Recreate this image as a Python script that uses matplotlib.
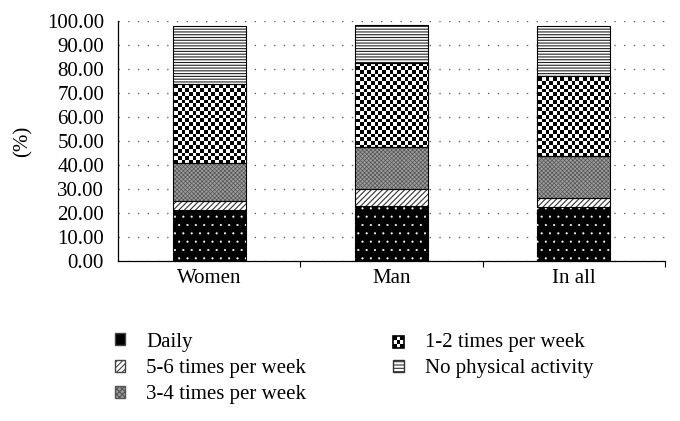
import numpy as np
import matplotlib
matplotlib.use('Agg')
import matplotlib.pyplot as plt
from matplotlib.patches import Patch, Rectangle

plt.rcParams['font.family'] = ['Liberation Serif', 'DejaVu Serif']
plt.rcParams['hatch.linewidth'] = 0.8

# data (% of respondents)
groups = ['Women', 'Man', 'In all']
activity = ['Daily', '5-6 times per week', '3-4 times per week',
            '1-2 times per week', 'No physical activity']
daily = [21.2, 23.0, 22.4]
five_six = [3.8, 7.0, 4.0]
three_four = [16.0, 17.6, 17.5]
one_two = [32.6, 35.0, 33.2]
none_pa = [24.4, 15.6, 21.0]
yticks = np.arange(0, 101, 10)

FS = 15

fig = plt.figure(figsize=(6.8, 4.21), dpi=100)
ax = fig.add_axes([0.1735, 0.380, 0.8045, 0.570])

x = np.arange(len(groups))
w = 0.4
bottom = np.zeros(len(groups))

# Daily: black with small white dots
ax.bar(x, daily, w, bottom=bottom, color='black', edgecolor='black', lw=0.8, zorder=3)
with plt.rc_context({'hatch.linewidth': 0.3}):
    ax.bar(x, daily, w, bottom=bottom, facecolor='none', edgecolor='white', hatch='..', lw=0, zorder=4)
bottom += daily

# 5-6: diagonal lines
ax.bar(x, five_six, w, bottom=bottom, facecolor='white', edgecolor='#333333', hatch='//////', lw=0, zorder=3)
ax.bar(x, five_six, w, bottom=bottom, facecolor='none', edgecolor='black', lw=0.8, zorder=5)
bottom += five_six

# 3-4: fine gray stipple
with plt.rc_context({'hatch.linewidth': 0.5}):
    ax.bar(x, three_four, w, bottom=bottom, facecolor='#9c9c9c', edgecolor='#555555', hatch='xxxxxxxx', lw=0, zorder=3)
ax.bar(x, three_four, w, bottom=bottom, facecolor='none', edgecolor='black', lw=0.8, zorder=5)
bottom += three_four

# 1-2: checkerboard, image clipped to each bar
cell = 3.7
ax_w, ax_h = 0.8045 * 680, 0.570 * 421
nx, ny = int(ax_w / cell), int(ax_h / cell)
checker = (np.add.outer(np.arange(ny), np.arange(nx)) % 2).astype(float)
b_12 = ax.bar(x, one_two, w, bottom=bottom, facecolor='white', edgecolor='black', lw=0.8, zorder=3)
for bar in b_12:
    im = ax.imshow(checker, cmap='gray', extent=[0, 1, 0, 1], transform=ax.transAxes,
                   interpolation='nearest', aspect='auto', zorder=4)
    im.set_clip_path(bar)
ax.bar(x, one_two, w, bottom=bottom, facecolor='none', edgecolor='black', lw=0.8, zorder=5)
bottom += one_two

# No physical activity: horizontal lines
ax.bar(x, none_pa, w, bottom=bottom, facecolor='white', edgecolor='#222222', hatch='------', lw=0, zorder=3)
ax.bar(x, none_pa, w, bottom=bottom, facecolor='none', edgecolor='black', lw=0.8, zorder=5)

ax.set_xlim(-0.5, 2.5)
ax.set_ylim(0, 100)
ax.set_yticks(yticks)
ax.set_yticklabels(['%.2f' % v for v in yticks], fontsize=FS)
ax.set_xticks(x)
ax.set_xticklabels(groups, fontsize=FS)
ax.set_xticks([0.5, 1.5, 2.5], minor=True)
ax.tick_params(axis='x', which='major', length=0, pad=6)
ax.tick_params(axis='x', which='minor', length=4, direction='out', width=0.8)
ax.tick_params(axis='y', length=0, pad=10)
ax.set_ylabel('(%)', fontsize=FS, labelpad=10)

ax.yaxis.grid(True, linestyle=(0, (1, 6)), color='#666666', lw=1)
ax.set_axisbelow(True)
for s in ['top', 'right']:
    ax.spines[s].set_visible(False)
ax.spines['left'].set_linewidth(0.9)
ax.spines['bottom'].set_linewidth(0.9)


class CheckerHandler:
    # little checkerboard square for the legend
    def legend_artist(self, legend, orig_handle, fontsize, handlebox):
        x0, y0 = handlebox.xdescent, handlebox.ydescent
        wd, ht = handlebox.width, handlebox.height
        n = 3
        for i in range(n):
            for j in range(n):
                c = 'black' if (i + j) % 2 == 0 else 'white'
                handlebox.add_artist(Rectangle((x0 + i * wd / n, y0 + j * ht / n), wd / n, ht / n,
                                               facecolor=c, edgecolor='none',
                                               transform=handlebox.get_transform()))
        frame = Rectangle((x0, y0), wd, ht, facecolor='none', edgecolor='black', lw=1.2,
                          transform=handlebox.get_transform())
        handlebox.add_artist(frame)
        return frame


checker_proxy = Patch(facecolor='white', edgecolor='black', label=activity[3])
handles = [
    Patch(facecolor='black', edgecolor='#444444', label=activity[0]),
    Patch(facecolor='white', edgecolor='#444444', hatch='//////', label=activity[1]),
    Patch(facecolor='#9c9c9c', edgecolor='#555555', hatch='xxxxxx', label=activity[2]),
    checker_proxy,
    Patch(facecolor='white', edgecolor='#333333', hatch='-----', label=activity[4]),
]
fig.legend(handles=handles, loc='upper left', bbox_to_anchor=(0.141, 0.254), ncol=2,
           frameon=False, fontsize=FS, handlelength=0.5, handleheight=0.5,
           handletextpad=1.0, columnspacing=4.2, labelspacing=0.35,
           handler_map={checker_proxy: CheckerHandler()})

fig.savefig('out.png', dpi=100)
